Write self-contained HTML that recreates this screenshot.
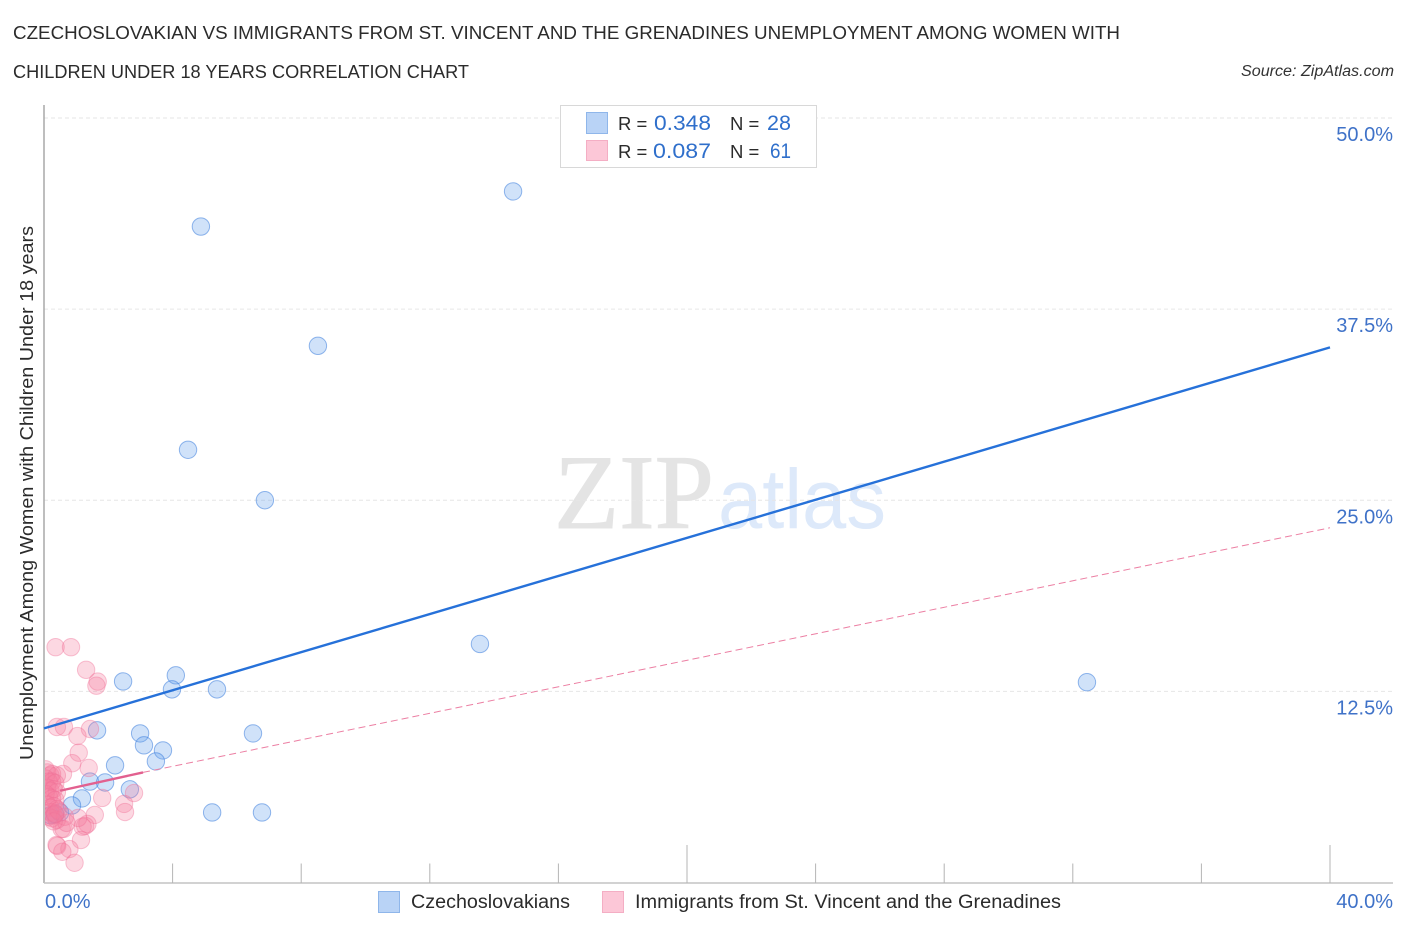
<!DOCTYPE html>
<html lang="en">
<head>
<meta charset="utf-8">
<title>Czechoslovakian vs Immigrants from St. Vincent and the Grenadines Unemployment Correlation Chart</title>
<style>
html,body{margin:0;padding:0;background:#fff;}
svg{display:block;font-family:"Liberation Sans",sans-serif;}
</style>
</head>
<body>
<svg id="chart" xmlns="http://www.w3.org/2000/svg" width="1406" height="930" viewBox="0 0 1406 930">
  <defs>
    <clipPath id="plot-clip"><rect x="45" y="100" width="1350" height="783"/></clipPath>
  </defs>
  <text x="13" y="39" font-size="18.5" fill="#2b2b2b" textLength="1107" lengthAdjust="spacingAndGlyphs">CZECHOSLOVAKIAN VS IMMIGRANTS FROM ST. VINCENT AND THE GRENADINES UNEMPLOYMENT AMONG WOMEN WITH</text>
  <text x="13" y="78" font-size="18.5" fill="#2b2b2b" textLength="456" lengthAdjust="spacingAndGlyphs">CHILDREN UNDER 18 YEARS CORRELATION CHART</text>
  <text x="1241" y="76" font-size="15.5" font-style="italic" fill="#333" textLength="153" lengthAdjust="spacingAndGlyphs">Source: ZipAtlas.com</text>

  <text x="554" y="528" font-family="'Liberation Serif',serif" font-size="106" fill="#e4e4e4" stroke="#e4e4e4" stroke-width="1" textLength="160" lengthAdjust="spacingAndGlyphs">ZIP</text>
  <text x="718" y="528" font-family="'Liberation Sans',sans-serif" font-size="84" fill="#dde9fa" textLength="168" lengthAdjust="spacingAndGlyphs">atlas</text>

  <g id="grid"></g>
  <g id="axes"></g>
  <g id="points" clip-path="url(#plot-clip)"></g>
  <g id="trends"></g>
  <g id="labels"></g>

  <text transform="translate(33,760) rotate(-90)" font-size="18" fill="#2b2b2b" textLength="534" lengthAdjust="spacingAndGlyphs">Unemployment Among Women with Children Under 18 years</text>

  <g>
    <rect x="560.5" y="105.5" width="256" height="62" fill="#fff" stroke="#d8d8d8"/>
    <rect x="586.5" y="112.5" width="21" height="21" fill="#b9d3f6" stroke="#8fb6ea"/>
    <rect x="586.5" y="140.5" width="21" height="20" fill="#fcc7d7" stroke="#f4aec4"/>
    <text x="618" y="130" font-size="18.5" fill="#2b2b2b">R =</text>
    <text x="654" y="130" font-size="21" fill="#2f6fcb" textLength="57" lengthAdjust="spacingAndGlyphs">0.348</text>
    <text x="730" y="130" font-size="18.5" fill="#2b2b2b">N =</text>
    <text x="767" y="130" font-size="21" fill="#2f6fcb" textLength="24" lengthAdjust="spacingAndGlyphs">28</text>
    <text x="618" y="158" font-size="18.5" fill="#2b2b2b">R =</text>
    <text x="653" y="158" font-size="21" fill="#2f6fcb" textLength="58" lengthAdjust="spacingAndGlyphs">0.087</text>
    <text x="730" y="158" font-size="18.5" fill="#2b2b2b">N =</text>
    <text x="770" y="158" font-size="21" fill="#2f6fcb" textLength="21" lengthAdjust="spacingAndGlyphs">61</text>
  </g>

  <g>
    <rect x="378.5" y="891.5" width="21" height="21" fill="#b9d3f6" stroke="#8fb6ea"/>
    <text x="411" y="908" font-size="19" fill="#2b2b2b" textLength="159" lengthAdjust="spacingAndGlyphs">Czechoslovakians</text>
    <rect x="602.5" y="891.5" width="21" height="21" fill="#fcc7d7" stroke="#f4aec4"/>
    <text x="635" y="908" font-size="19" fill="#2b2b2b" textLength="426" lengthAdjust="spacingAndGlyphs">Immigrants from St. Vincent and the Grenadines</text>
  </g>
</svg>
<script>
const blueX = [14.59,4.88,8.52,4.48,6.87,13.56,32.44,2.46,4.10,3.98,5.38,1.65,2.99,6.50,3.11,3.70,3.48,2.21,1.43,1.90,2.67,1.18,0.87,5.23,6.78,0.34,0.50,0.20];
const blueY = [45.2,42.9,35.1,28.3,25.0,15.6,13.1,13.15,13.55,12.63,12.63,9.95,9.75,9.75,8.97,8.64,7.92,7.66,6.60,6.54,6.09,5.50,5.04,4.58,4.58,4.45,4.58,4.40];
const pinkX = [0.36,0.84,1.31,1.67,1.63,0.40,0.62,1.43,1.04,1.08,0.88,1.39,0.59,1.81,2.80,2.49,2.52,1.58,1.35,1.20,1.28,1.15,0.79,0.41,0.39,0.57,0.95,0.55,0.61,1.06,
  0.05,0.10,0.20,0.25,0.40,0.05,0.15,0.25,0.35,0.10,0.20,0.30,0.40,0.05,0.15,0.25,0.35,0.10,0.20,0.30,0.40,0.20,0.30,0.15,0.25,0.40,0.65,0.70,0.45,0.30,0.35];
const pinkY = [15.39,15.39,13.91,13.14,12.87,10.17,10.17,10.04,9.58,8.49,7.80,7.49,7.10,5.53,5.85,5.14,4.61,4.42,3.83,3.65,3.70,2.78,2.19,2.39,2.45,2.01,1.29,3.50,3.50,4.22,
  7.4,7.2,7.0,7.1,7.0,6.8,6.6,6.6,6.5,6.2,6.0,6.1,5.9,5.8,5.6,5.5,5.4,5.1,4.9,5.0,4.8,4.6,4.4,4.3,4.2,4.1,4.3,3.9,4.7,4.0,4.5];
const blueTrendX = [0,40];
const blueTrendY = [10.08,35.0];
const pinkSolidX = [0.5,3.08];
const pinkSolidY = [6.0,7.2];
const pinkDashX = [3.08,40];
const pinkDashY = [7.2,23.2];
const yTicks = [12.5,25,37.5,50];
const yTickLabels = ["12.5%","25.0%","37.5%","50.0%"];
const xTicks = [4,8,12,16,20,24,28,32,36,40];
const xMajorTicks = [20,40];
const xTickLabels = ["0.0%","40.0%"];

const X_LEFT = 44, X_RIGHT = 1330, X_MAX = 40;
const Y_ZERO = 882.5, Y_TOP = 118, Y_MAX = 50;
const NS = "http://www.w3.org/2000/svg";
function xScale(v){ return X_LEFT + (X_RIGHT - X_LEFT) * v / X_MAX; }
function yScale(v){ return Y_ZERO - (Y_ZERO - Y_TOP) * v / Y_MAX; }
function make(tag, attrs, parent){
  const el = document.createElementNS(NS, tag);
  for (const k in attrs) el.setAttribute(k, attrs[k]);
  parent.appendChild(el);
  return el;
}
const grid = document.getElementById("grid");
const axes = document.getElementById("axes");
const points = document.getElementById("points");
const trends = document.getElementById("trends");
const labels = document.getElementById("labels");

yTicks.forEach(function(t, i){
  const line = make("line", {x1:X_LEFT, x2:1393, y1:yScale(t), y2:yScale(t), stroke:"#e6e6e6", "stroke-width":1, "stroke-dasharray":"4 3"}, grid);
  
  
  const label = make("text", {x:1393, y:yScale(t) + 23, "text-anchor":"end", "font-size":20, fill:"#3f72c8"}, labels);
  
  
  label.textContent = yTickLabels[i];
});

const yAxisLine = make("line", {x1:X_LEFT, x2:X_LEFT, y1:105, y2:883, stroke:"#a8a8a8", "stroke-width":1.5}, axes);


const xAxisLine = make("line", {x1:X_LEFT, x2:1393, y1:883, y2:883, stroke:"#c4c4c4", "stroke-width":1.5}, axes);


xTicks.forEach(function(t){
  const top = xMajorTicks.indexOf(t) >= 0 ? 845 : 863.5;
  const tick = make("line", {x1:xScale(t), x2:xScale(t), y1:top, y2:883, stroke:"#b4b4b4", "stroke-width":1}, axes);
  
  
});
const xLabelLeft = make("text", {x:45, y:908, "font-size":20, fill:"#3f72c8"}, labels);


xLabelLeft.textContent = xTickLabels[0];
const xLabelRight = make("text", {x:1393, y:908, "text-anchor":"end", "font-size":20, fill:"#3f72c8"}, labels);


xLabelRight.textContent = xTickLabels[1];

blueX.forEach(function(v, i){
  const c = make("circle", {cx:xScale(v), cy:yScale(blueY[i]), r:8.7, fill:"rgba(100,160,235,0.3)", stroke:"rgba(60,125,220,0.55)", "stroke-width":1}, points);
  
  
});
pinkX.forEach(function(v, i){
  const c = make("circle", {cx:xScale(v), cy:yScale(pinkY[i]), r:8.7, fill:"rgba(245,125,160,0.3)", stroke:"rgba(240,110,150,0.4)", "stroke-width":1}, points);
  
  
});

const blueLine = make("line", {x1:xScale(blueTrendX[0]), y1:yScale(blueTrendY[0]), x2:xScale(blueTrendX[1]), y2:yScale(blueTrendY[1]), stroke:"#2671d9", "stroke-width":2.4}, trends);


const pinkDash = make("line", {x1:xScale(pinkDashX[0]), y1:yScale(pinkDashY[0]), x2:xScale(pinkDashX[1]), y2:yScale(pinkDashY[1]), stroke:"#ec7fa3", "stroke-width":1, "stroke-dasharray":"7 4"}, trends);


const pinkSolid = make("line", {x1:xScale(pinkSolidX[0]), y1:yScale(pinkSolidY[0]), x2:xScale(pinkSolidX[1]), y2:yScale(pinkSolidY[1]), stroke:"#e2608f", "stroke-width":2.4}, trends);


</script>
</body>
</html>
